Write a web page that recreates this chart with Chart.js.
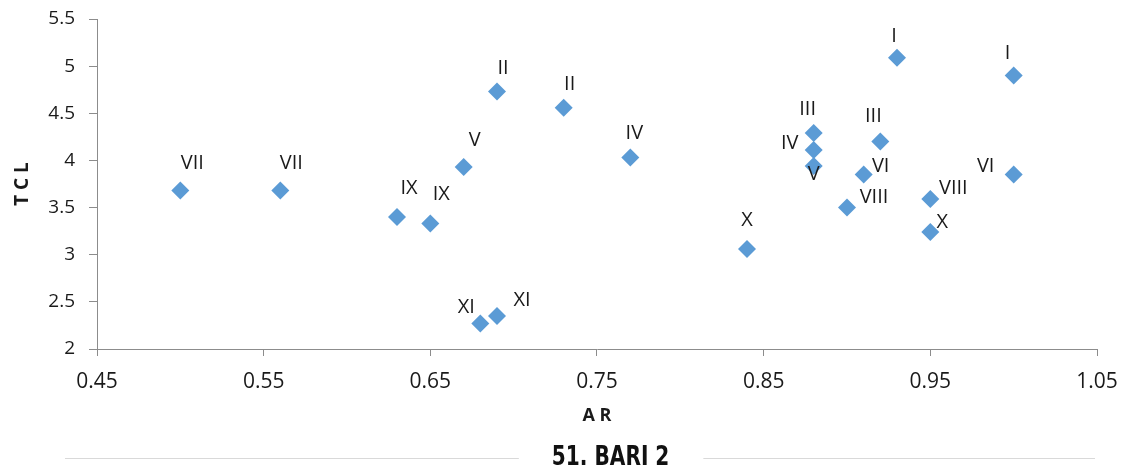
<!DOCTYPE html>
<html>
<head>
<meta charset="utf-8">
<title>51. BARI 2</title>
<script src="https://cdn.jsdelivr.net/npm/chart.js@4.4.1/dist/chart.umd.min.js"></script>
<style>
  html, body { margin: 0; padding: 0; background: #fff; }
  #wrap { width: 1128px; height: 470px; position: relative; }
</style>
</head>
<body>
<div id="wrap"><canvas id="chart"></canvas></div>
<script>
// data
const arValues = [0.50, 0.56, 0.63, 0.65, 0.67, 0.69, 0.73, 0.77, 0.68, 0.69, 0.84, 0.88, 0.88, 0.88, 0.92, 0.91, 0.90, 0.95, 0.95, 0.93, 1.00, 1.00];
const tclValues = [3.68, 3.68, 3.40, 3.33, 3.93, 4.73, 4.56, 4.03, 2.27, 2.35, 3.06, 4.29, 4.11, 3.94, 4.20, 3.85, 3.50, 3.59, 3.24, 5.09, 4.90, 3.85];
const pointNames = ['VII', 'VII', 'IX', 'IX', 'V', 'II', 'II', 'IV', 'XI', 'XI', 'X', 'III', 'IV', 'V', 'III', 'VI', 'VIII', 'VIII', 'X', 'I', 'I', 'VI'];
const xTicks = [0.45, 0.55, 0.65, 0.75, 0.85, 0.95, 1.05];
const yTicks = [2, 2.5, 3, 3.5, 4, 4.5, 5, 5.5];
const chartTitle = '51. BARI 2';
const xTitle = 'A R';
const yTitle = 'T C L';

// label placement (px from the marker), like Excel's manual label moves
const labelShift = [[12,-27],[11,-27],[12,-29],[11,-29],[11,-27],[6,-23],[6,-23],[4,-24],[-14,-16],[25,-16],[0,-29],[-6,-24],[-24,-7],[0,8],[-7,-25],[17,-8],[27,-10],[23,-11],[12,-10],[-3,-21],[-6,-22],[-28,-8]];

const axisGray = '#8c8c8c';
const textColor = '#1a1a1a';

const pointLabelPlugin = {
  id: 'pointLabels',
  afterDatasetsDraw(chart){
    const ctx = chart.ctx;
    const meta = chart.getDatasetMeta(0);
    ctx.save();
    ctx.font = '20px "Open Sans", sans-serif';
    ctx.fillStyle = textColor;
    ctx.textAlign = 'center';
    ctx.textBaseline = 'middle';
    meta.data.forEach((pt, i) => {
      const s = labelShift[i] || [0, -25];
      ctx.fillText(pointNames[i], pt.x + s[0], pt.y + s[1]);
    });
    ctx.restore();
  }
};

// bottom title with the thin rules either side of it
const bottomTitlePlugin = {
  id: 'bottomTitle',
  afterDraw(chart){
    const ctx = chart.ctx;
    const area = chart.chartArea;
    const cx = area.left + (area.right - area.left) * 0.5136;
    const cy = 458;
    const squeeze = 0.86; // the original title font is a narrow one
    ctx.save();
    ctx.font = 'bold 26px "Liberation Sans Narrow", "DejaVu Sans Condensed", sans-serif';
    const w = ctx.measureText(chartTitle).width * squeeze;
    ctx.strokeStyle = '#d9d9d9';
    ctx.lineWidth = 1;
    ctx.beginPath();
    ctx.moveTo(area.left - 32, 458.5); ctx.lineTo(cx - w / 2 - 33, 458.5);
    ctx.moveTo(cx + w / 2 + 34, 458.5); ctx.lineTo(area.right - 2, 458.5);
    ctx.stroke();
    ctx.translate(cx, cy);
    ctx.scale(squeeze, 1);
    ctx.fillStyle = '#111';
    ctx.textAlign = 'center';
    ctx.textBaseline = 'middle';
    ctx.fillText(chartTitle, 0, 0);
    ctx.restore();
  }
};

const ctx = document.getElementById('chart');
new Chart(ctx.getContext('2d'), {
  type: 'scatter',
  data: {
    datasets: [{
      label: 'TCL',
      data: arValues.map((v, i) => ({ x: v, y: tclValues[i] })),
      pointStyle: 'rectRot',
      pointRadius: 9,
      pointHoverRadius: 9,
      backgroundColor: '#5b9bd5',
      borderWidth: 0
    }]
  },
  options: {
    responsive: true, maintainAspectRatio: false, animation: false,
    layout: { padding: { top: 19, right: 31, bottom: 38, left: 0 } },
    plugins: { legend: { display: false }, tooltip: { enabled: false }, title: { display: false } },
    scales: {
      x: {
        type: 'linear', min: 0.45, max: 1.05,
        afterBuildTicks: (s) => { s.ticks = xTicks.map(v => ({ value: v })); },
        afterFit: (s) => { s.height = 83; s.paddingLeft = 0; s.paddingRight = 0; },
        ticks: { callback: (v) => v.toFixed(2), color: textColor, padding: 13, font: { family: '"Open Sans", sans-serif', size: 21 }, maxRotation: 0 },
        grid: { drawOnChartArea: false, drawTicks: true, tickLength: 7, color: axisGray },
        border: { color: axisGray, width: 1 },
        title: { display: true, text: xTitle, color: textColor, font: { family: '"Open Sans", sans-serif', size: 18, weight: 'bold' }, padding: { top: 0, bottom: 5 } }
      },
      y: {
        type: 'linear', min: 2, max: 5.5,
        afterBuildTicks: (s) => { s.ticks = yTicks.map(v => ({ value: v })); },
        afterFit: (s) => { s.width = 97; s.paddingTop = 0; s.paddingBottom = 0; },
        ticks: { callback: (v) => String(v), color: textColor, padding: 14, font: { family: '"Open Sans", sans-serif', size: 19 } },
        grid: { drawOnChartArea: false, drawTicks: true, tickLength: 8, color: axisGray },
        border: { color: axisGray, width: 1 },
        title: { display: true, text: yTitle, color: textColor, font: { family: '"Open Sans", sans-serif', size: 19, weight: 'bold' }, padding: { top: 11, bottom: 0 } }
      }
    }
  },
  plugins: [pointLabelPlugin, bottomTitlePlugin]
});
</script>
</body>
</html>
